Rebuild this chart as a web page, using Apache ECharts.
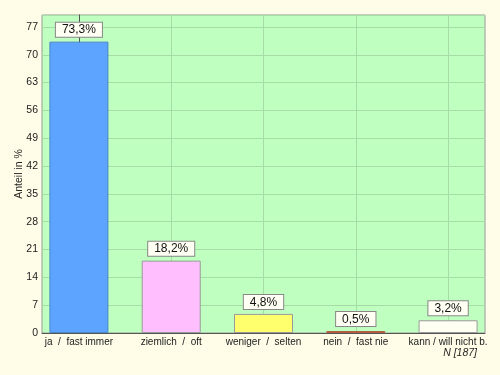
<!DOCTYPE html>
<html><head><meta charset="utf-8">
<script src="https://cdn.jsdelivr.net/npm/echarts@6/dist/echarts.min.js"></script>
<style>html,body{margin:0;padding:0;background:#FFFDE8;}#c{width:500px;height:375px;}</style>
</head><body><div id="c"></div>
<script>
const categories = ['ja  /  fast immer', 'ziemlich  /  oft', 'weniger  /  selten', 'nein  /  fast nie', 'kann / will nicht b.'];
const values = [73.3, 18.2, 4.8, 0.5, 3.2];
const barColors = ['#5CA4FF', '#FFBFFF', '#FFFF6E', '#C8704C', '#FFFFF2'];
const barBorders = ['#4A86C8', '#999999', '#999999', '#B06040', '#999999'];
const yTicks = [0, 7, 14, 21, 28, 35, 42, 49, 56, 63, 70, 77];
const noteText = 'N [187]';

const chart = echarts.init(document.getElementById('c'), null, {renderer: 'canvas'});
const ff = 'Liberation Sans, Arial, sans-serif';
chart.setOption({
  backgroundColor: '#FFFDE8',
  animation: false,
  grid: {left: 42, right: 15, top: 15, bottom: 42, outerBoundsMode: 'none', containLabel: false, show: true, backgroundColor: '#BFFFBF', borderColor: '#999999', borderWidth: 1},
  xAxis: {
    type: 'value', min: -0.4, max: 4.4,
    axisLine: {show: true, lineStyle: {color: '#555', width: 1}},
    axisTick: {show: false},
    splitLine: {show: false},
    axisLabel: {
      customValues: categories.map((c, i) => i),
      formatter: v => categories[Math.round(v)] || '',
      color: '#222', fontFamily: ff, fontSize: 10, margin: 4
    }
  },
  yAxis: {
    type: 'value', min: 0, max: 80, interval: 7,
    name: 'Anteil in %', nameLocation: 'middle', nameGap: 17, nameMoveOverlap: false,
    nameTextStyle: {color: '#222', fontFamily: ff, fontSize: 10.5},
    axisLine: {show: true, lineStyle: {color: '#555', width: 1}},
    axisTick: {show: false},
    axisLabel: {
      customValues: yTicks,
      color: '#222', fontFamily: ff, fontSize: 10.5, margin: 4
    },
    splitLine: {show: true, lineStyle: {color: '#A6DCA6', width: 1}}
  },
  series: [{
    type: 'bar',
    barWidth: 59,
    data: values.map((v, i) => ({
      value: [i, v],
      itemStyle: {color: barColors[i], borderColor: barBorders[i], borderWidth: 1}
    })),
    label: {
      show: true, position: 'top', distance: 5,
      formatter: p => p.value[1].toFixed(1).replace('.', ',') + '%',
      color: '#111', fontFamily: ff, fontSize: 12, lineHeight: 13,
      backgroundColor: '#FFFFF4', borderColor: '#888', borderWidth: 1,
      padding: [1, 6, 0, 6]
    },
    markLine: {
      silent: true, symbol: 'none', label: {show: false},
      lineStyle: {color: '#A6DCA6', width: 1, type: 'solid'},
      z: 0,
      data: categories.map((c, i) => ({xAxis: i}))
    },
    z: 3
  }],
  graphic: [{
    type: 'text', right: 23, top: 348,
    style: {text: noteText, fill: '#222', font: 'italic 10.5px Liberation Sans, Arial, sans-serif'}
  }]
});
</script></body></html>
